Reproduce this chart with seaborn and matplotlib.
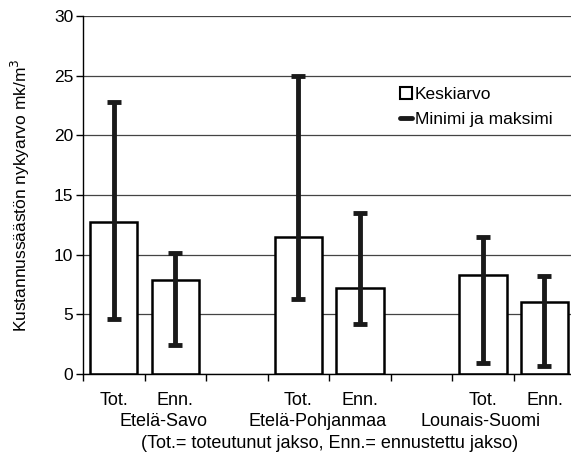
import numpy as np
import pandas as pd
import matplotlib
matplotlib.use("Agg")
import matplotlib.pyplot as plt
import seaborn as sns
from matplotlib.patches import Patch
from matplotlib.lines import Line2D

regions = ["Etelä-Savo", "Etelä-Pohjanmaa", "Lounais-Suomi"]
periods = ["Tot.", "Enn."]
mean_vals = [12.7, 7.9, 11.45, 7.2, 8.3, 6.05]
min_vals = [4.6, 2.4, 6.3, 4.2, 0.9, 0.7]
max_vals = [22.8, 10.1, 25.0, 13.5, 11.45, 8.25]

sns.set_theme(style="white")
plt.rcParams["font.family"] = ["Liberation Sans", "DejaVu Sans"]
plt.rcParams.update({"text.color": "black", "axes.labelcolor": "black",
                     "xtick.color": "black", "ytick.color": "black"})

rows = []
for i, r in enumerate(regions):
    for j, p in enumerate(periods):
        k = i * 2 + j
        rows.append({"slot": f"{r} {p}", "region": r, "period": p,
                     "mean": mean_vals[k], "lo": min_vals[k], "hi": max_vals[k]})
df = pd.DataFrame(rows)

# category order with empty gaps between the regions
order = []
for i, r in enumerate(regions):
    order += [f"{r} {p}" for p in periods]
    if i < len(regions) - 1:
        order.append(f"gap{i}")

fig = plt.figure(figsize=(5.71, 4.55), dpi=100)
ax = fig.add_axes([0.1454, 0.178, 0.862, 0.787])

sns.barplot(data=df, x="slot", y="mean", order=order, color="white",
            edgecolor="black", linewidth=1.8, width=0.77, ax=ax, zorder=2)

pos = [order.index(s) for s in df["slot"]]
ax.errorbar(pos, df["mean"], yerr=[df["mean"] - df["lo"], df["hi"] - df["mean"]],
            fmt="none", ecolor="#1a1a1a", elinewidth=3.5, capsize=5, capthick=3.5,
            zorder=3)

ax.set_ylim(0, 30)
ax.set_xlim(-0.5, len(order) - 0.5)
ax.set_yticks(range(0, 31, 5))
ax.tick_params(axis="y", labelsize=12.5, length=5, width=1, direction="out",
               left=True, colors="black", pad=2)
ax.yaxis.grid(True, color="#444444", linewidth=0.9, zorder=0)
ax.set_axisbelow(True)

ax.set_xticks(np.arange(-0.5, len(order), 1.0))
ax.set_xticklabels([])
ax.tick_params(axis="x", length=5, width=1, direction="out", bottom=True)
ax.set_xlabel("")
ax.set_ylabel("Kustannussäästön nykyarvo mk/m$^3$", fontsize=12.5, labelpad=16)

for s in ["top", "right"]:
    ax.spines[s].set_visible(False)
for s in ["left", "bottom"]:
    ax.spines[s].set_color("black")
    ax.spines[s].set_linewidth(1)

# region names sit a little off the group centres, as in the original
region_offsets = [0.8, 0.32, -0.04]
trans = ax.get_xaxis_transform()
for i, r in enumerate(regions):
    for j, p in enumerate(periods):
        x = order.index(f"{r} {p}")
        ax.text(x, -0.073, p, transform=trans, ha="center", va="center",
                fontsize=13)
    ax.text(order.index(f"{r} Tot.") + region_offsets[i], -0.133, r,
            transform=trans, ha="center", va="center", fontsize=13)
ax.text(0.5, -0.193, "(Tot.= toteutunut jakso, Enn.= ennustettu jakso)",
        transform=ax.transAxes, ha="center", va="center", fontsize=13)

handles = [Patch(facecolor="white", edgecolor="black", linewidth=1.5),
           Line2D([0], [0], color="#1a1a1a", linewidth=3.5)]
ax.legend(handles, ["Keskiarvo", "Minimi ja maksimi"], loc="upper left",
          bbox_to_anchor=(0.644, 0.802), frameon=False, fontsize=12.5,
          handlelength=0.7, handleheight=0.7, handletextpad=0.15,
          labelspacing=0.55, borderpad=0, borderaxespad=0)

fig.savefig("out.png", dpi=100)
